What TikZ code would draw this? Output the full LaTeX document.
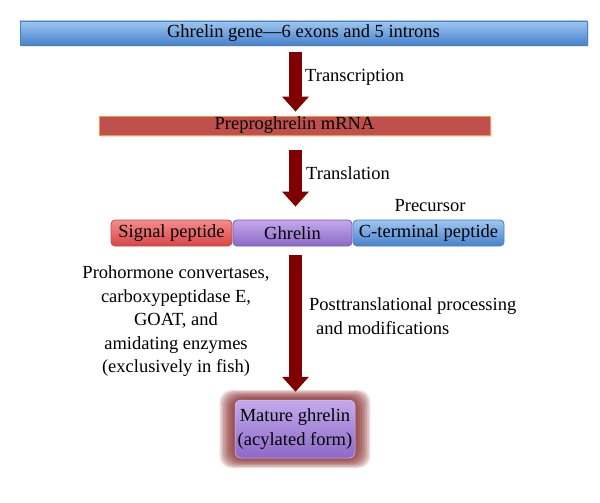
\documentclass[tikz,border=0pt]{standalone}
\usepackage{fontspec}
\setmainfont{Liberation Serif}
\usetikzlibrary{arrows.meta,shadows}
\definecolor{arrowred}{RGB}{128,0,0}
\definecolor{blueTop}{RGB}{160,198,240}
\definecolor{blueBot}{RGB}{70,130,205}
\definecolor{blueLine}{RGB}{79,129,189}
\definecolor{mrnaFill}{RGB}{192,80,77}
\definecolor{mrnaLine}{RGB}{247,150,70}
\definecolor{redTop}{RGB}{245,140,140}
\definecolor{redBot}{RGB}{215,70,70}
\definecolor{redLine}{RGB}{192,80,77}
\definecolor{purTop}{RGB}{195,170,235}
\definecolor{purBot}{RGB}{140,105,200}
\definecolor{purLine}{RGB}{120,90,170}
\definecolor{glowCol}{RGB}{135,40,40}
\begin{document}
\begin{tikzpicture}[x=1pt,y=-1pt,
  lbl/.style={font=\rmfamily\fontsize{18.5}{23.5}\selectfont, inner sep=0pt},
  bar/.style={lbl, minimum height=#1, inner sep=0pt},
  bluebar/.style={draw=blueLine, line width=0.8pt, top color=blueTop, bottom color=blueBot},
  redbar/.style={draw=mrnaLine, line width=0.8pt, fill=mrnaFill},
  seg/.style={rounded corners=4pt, line width=0.8pt, minimum height=26pt, inner sep=0pt, lbl},
  bigarrow/.style={draw=arrowred, line width=13pt, -{Triangle[width=26pt,length=15pt]}},
]
\useasboundingbox (0,0) rectangle (600,503);
\fill[white] (0,0) rectangle (600,503);

% top bar
\node[bar=24pt, bluebar, minimum width=567pt,
      drop shadow={opacity=0.2, shadow xshift=1.5pt, shadow yshift=-2pt}] (gene) at (303.5,33)
  {Ghrelin gene—6 exons and 5 introns};
% mRNA
\node[bar=19pt, redbar, minimum width=391pt,
      drop shadow={opacity=0.2, shadow xshift=1.5pt, shadow yshift=-2pt}] (mrna) at (294.5,125.5)
  {Preproghrelin mRNA};

% precursor segments
\node[seg, draw=redLine, top color=redTop, bottom color=redBot, minimum width=121pt] (sig) at (171.5,233) {Signal peptide};
\node[seg, draw=purLine, top color=purTop, bottom color=purBot, minimum width=119pt] (ghr) at (292.5,233) {Ghrelin};
\node[seg, draw=blueLine, top color=blueTop, bottom color=blueBot, minimum width=151pt] (cterm) at (428.5,233) {C-terminal peptide};
\node[lbl] (prec) at (430,206) {Precursor};

% mature ghrelin with glow
\foreach \i in {1,...,9}{
  \fill[glowCol, opacity=0.17, rounded corners=12pt]
    (235-1.7*\i,400-1.1*\i) rectangle (355+1.7*\i,458+1.1*\i);
}
\node[lbl, align=center, rounded corners=6pt, top color=purTop, bottom color=purBot,
      minimum width=120pt, minimum height=58pt, draw=purTop!70!white, line width=0.5pt] (mature) at (295,429)
  {Mature ghrelin\\(acylated form)};

% arrows
\coordinate (ax) at (295.5,0);
\draw[bigarrow, shorten <=7pt, shorten >=4pt] (gene.south -| ax) -- (mrna.north -| ax);
\draw[bigarrow, shorten <=15pt, shorten >=13pt] (mrna.south -| ax) -- (ghr.north -| ax);
\draw[bigarrow, shorten <=9pt, shorten >=8pt] (ghr.south -| ax) -- (mature.north -| ax);

% labels
\node[lbl, anchor=west] (tr1) at (305,77) {Transcription};
\node[lbl, anchor=west] (tr2) at (306,173) {Translation};
\node[lbl, align=center] (enz) at (176,321.5)
  {Prohormone convertases,\\carboxypeptidase E,\\GOAT, and\\amidating enzymes\\(exclusively in fish)};
\node[lbl, align=left, anchor=west] (post) at (309,316)
  {Posttranslational processing\\\hspace*{7pt}and modifications};
\end{tikzpicture}
\end{document}
